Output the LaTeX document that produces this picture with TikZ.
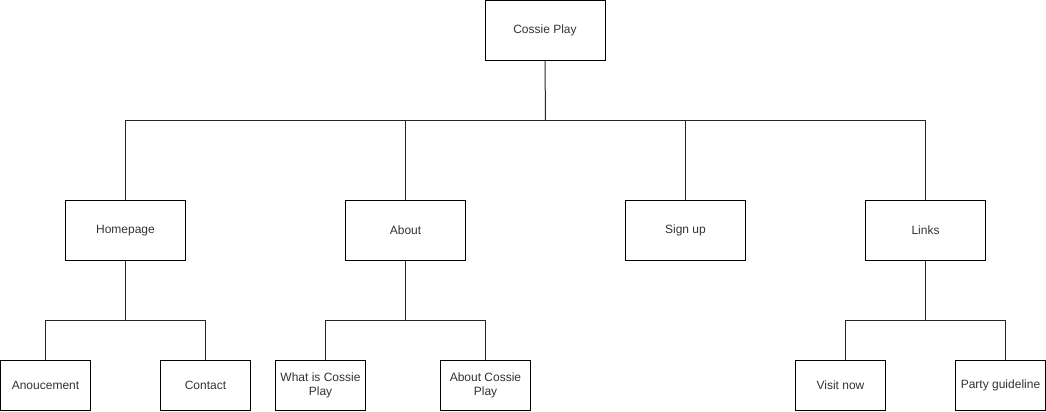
\documentclass[tikz,border=0pt]{standalone}
\usepackage{fontspec}
\setmainfont{Liberation Sans}
\begin{document}
\begin{tikzpicture}[x=0.75pt,y=-0.75pt,
  every path/.style={line width=0.75pt},
  big/.style={draw=black,fill=white,minimum width=90pt,minimum height=45pt,inner sep=0pt,align=center,font=\fontsize{9pt}{11pt}\selectfont,text=black!80},
  small/.style={draw=black,fill=white,minimum width=67.5pt,minimum height=37.5pt,inner sep=0pt,align=center,font=\fontsize{9pt}{11pt}\selectfont,text=black!80},
  link/.style={draw=black!85}]
\useasboundingbox (0,0) rectangle (1046,411);
\fill[white] (0,0) rectangle (1046,411);
\node[big] (top) at (545,30.5) {Cossie Play};
\node[big] (home) at (125.5,230.5) {Homepage};
\node[big] (about) at (405.5,230.5) {About};
\node[big] (sign) at (685.5,230.5) {Sign up};
\node[big] (links) at (925.5,230.5) {Links};
\node[small] (anou) at (45.5,385.5) {Anoucement};
\node[small] (contact) at (205.5,385.5) {Contact};
\node[small] (what) at (320.5,385.5) {What is Cossie\\Play};
\node[small] (aboutc) at (485.5,385.5) {About Cossie\\Play};
\node[small] (visit) at (840.5,385.5) {Visit now};
\node[small] (party) at (1000.5,385.5) {Party guideline};
\coordinate (j1) at (545.5,120.5);
\coordinate (j2) at (125.5,320.5);
\coordinate (j3) at (405.5,320.5);
\coordinate (j4) at (925.5,320.5);
\draw[link] (top.south) -- (j1);
\draw[link] (home.north) |- (j1) -| (links.north);
\draw[link] (about.north) -- (about.north |- j1);
\draw[link] (sign.north) -- (sign.north |- j1);
\draw[link] (home.south) -- (j2);
\draw[link] (anou.north) |- (j2) -| (contact.north);
\draw[link] (about.south) -- (j3);
\draw[link] ([xshift=3.75pt]what.north) |- (j3) -| (aboutc.north);
\draw[link] (links.south) -- (j4);
\draw[link] ([xshift=3.75pt]visit.north) |- (j4) -| ([xshift=3.75pt]party.north);
\end{tikzpicture}
\end{document}
